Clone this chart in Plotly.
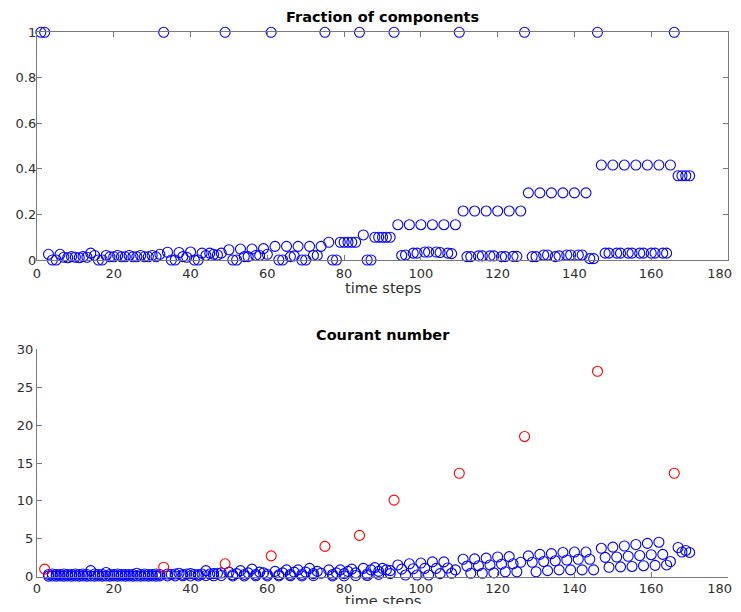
import plotly.graph_objects as go

# ---------------- Data: Fraction of components (top) ----------------
reset_steps = [1, 2, 33, 49, 61, 75, 84, 93, 110, 127, 146, 166]
reset_frac = [1, 1, 1, 1, 1, 1, 1, 1, 1, 1, 1, 1]

frac_main_x = [3, 6, 9, 12, 14, 15, 18, 21, 24, 27, 30, 32,
               34, 37, 40, 43, 45, 48,
               50, 53, 56, 59,
               62, 65, 68, 71, 74,
               76, 79, 80, 81, 82, 83,
               85, 88, 89, 90, 91, 92,
               94, 97, 100, 103, 106, 109,
               111, 114, 117, 120, 123, 126,
               128, 131, 134, 137, 140, 143,
               147, 150, 153, 156, 159, 162, 165,
               167, 168, 169, 170]
frac_main_y = [0.025, 0.025, 0.015, 0.015, 0.03, 0.02, 0.02, 0.02, 0.02, 0.02, 0.02, 0.025,
               0.034, 0.033, 0.035, 0.03, 0.03, 0.03,
               0.045, 0.048, 0.048, 0.05,
               0.06, 0.06, 0.06, 0.06, 0.06,
               0.078, 0.078, 0.078, 0.078, 0.078, 0.078,
               0.11, 0.10, 0.10, 0.10, 0.10, 0.10,
               0.155, 0.155, 0.155, 0.155, 0.155, 0.155,
               0.215, 0.215, 0.215, 0.215, 0.215, 0.215,
               0.295, 0.295, 0.295, 0.295, 0.295, 0.295,
               0.417, 0.417, 0.417, 0.417, 0.417, 0.417, 0.417,
               0.37, 0.37, 0.37, 0.37]

frac_small_x = [4, 5, 7, 8, 10, 11, 13, 16, 17, 19, 20, 22, 23, 25, 26, 28, 29, 31,
                35, 36, 38, 39, 41, 42, 44, 46, 47,
                51, 52, 54, 55, 57, 58, 60,
                63, 64, 66, 67, 69, 70, 72, 73,
                77, 78, 86, 87,
                95, 96, 98, 99, 101, 102, 104, 105, 107, 108,
                112, 113, 115, 116, 118, 119, 121, 122, 124, 125,
                129, 130, 132, 133, 135, 136, 138, 139, 141, 142, 144, 145,
                148, 149, 151, 152, 154, 155, 157, 158, 160, 161, 163, 164]
frac_small_y = [0.0, 0.0, 0.012, 0.01, 0.012, 0.01, 0.012, 0.0, 0.0, 0.014, 0.014, 0.014, 0.014, 0.014, 0.014, 0.014, 0.014, 0.014,
                0.0, 0.0, 0.015, 0.012, 0.0, 0.0, 0.02, 0.025, 0.022,
                0.0, 0.0, 0.015, 0.015, 0.02, 0.02, 0.025,
                0.0, 0.0, 0.015, 0.018, 0.0, 0.0, 0.02, 0.02,
                0.0, 0.0, 0.0, 0.0,
                0.02, 0.022, 0.03, 0.03, 0.035, 0.035, 0.035, 0.033, 0.03, 0.028,
                0.015, 0.015, 0.018, 0.018, 0.018, 0.018, 0.015, 0.015, 0.016, 0.016,
                0.015, 0.015, 0.022, 0.022, 0.015, 0.018, 0.022, 0.022, 0.022, 0.022, 0.006, 0.006,
                0.03, 0.03, 0.03, 0.03, 0.03, 0.03, 0.03, 0.03, 0.03, 0.03, 0.03, 0.03]

# ---------------- Data: Courant number (bottom) ----------------
courant_reset_y = [-0.2, 1.0, 1.25, 1.7, 2.75, 4.0, 5.45, 10.1, 13.65, 18.5, 27.1, 13.65]

cour_x = [3, 4, 5, 6, 7, 8, 9, 10, 11, 12, 13, 14, 15, 16, 17, 18, 19, 20, 21, 22, 23, 24, 25, 26, 27, 28, 29, 30, 31, 32,
          3, 4, 5, 6, 7, 8, 9, 10, 11, 12, 13, 14, 15, 16, 17, 18, 19, 20, 21, 22, 23, 24, 25, 26, 27, 28, 29, 30, 31, 32,
          34, 35, 36, 37, 38, 39, 40, 41, 42, 43, 44, 45, 46, 47, 48,
          34, 36, 38, 40, 42, 44, 46, 48,
          50, 51, 52, 53, 54, 55, 56, 57, 58, 59, 60, 51, 54, 57, 60,
          62, 63, 64, 65, 66, 67, 68, 69, 70, 71, 72, 73, 74, 63, 66, 69, 72,
          76, 77, 78, 79, 80, 81, 82, 83, 77, 80, 83,
          85, 86, 87, 88, 89, 90, 91, 92, 86, 89, 92,
          94, 97, 100, 103, 106, 95, 98, 101, 104, 107, 96, 99, 102, 105, 108, 109,
          111, 114, 117, 120, 123, 126, 112, 115, 118, 121, 124, 113, 116, 119, 122, 125,
          128, 131, 134, 137, 140, 143, 129, 132, 135, 138, 141, 144, 130, 133, 136, 139, 142, 145,
          147, 150, 153, 156, 159, 162, 148, 151, 154, 157, 160, 163, 149, 152, 155, 158, 161, 164, 165,
          167, 168, 169, 170]
cour_y = [0.3, 0.35, 0.3, 0.3, 0.35, 0.3, 0.3, 0.35, 0.3, 0.35, 0.3, 0.8, 0.35, 0.3, 0.3, 0.55, 0.3, 0.3, 0.35, 0.3, 0.3, 0.3, 0.3, 0.45, 0.3, 0.35, 0.3, 0.3, 0.35, 0.3,
          0.08, 0.1, 0.08, 0.1, 0.08, 0.1, 0.08, 0.1, 0.08, 0.1, 0.08, 0.1, 0.08, 0.1, 0.08, 0.1, 0.08, 0.1, 0.08, 0.1, 0.08, 0.1, 0.08, 0.1, 0.08, 0.1, 0.08, 0.1, 0.08, 0.1,
          0.35, 0.3, 0.35, 0.45, 0.3, 0.35, 0.4, 0.3, 0.3, 0.35, 0.8, 0.35, 0.4, 0.45, 0.5,
          0.1, 0.1, 0.12, 0.1, 0.1, 0.15, 0.12, 0.15,
          0.6, 0.25, 0.4, 0.8, 0.3, 0.5, 1.0, 0.3, 0.6, 0.5, 0.3, 0.1, 0.1, 0.12, 0.1,
          0.7, 0.25, 0.5, 0.9, 0.3, 0.6, 0.9, 0.3, 0.6, 1.1, 0.4, 0.7, 0.45, 0.1, 0.12, 0.1, 0.15,
          0.9, 0.3, 0.5, 0.9, 0.4, 0.7, 1.0, 0.5, 0.1, 0.1, 0.15,
          1.1, 0.35, 0.9, 1.2, 0.7, 1.1, 0.9, 0.8, 0.15, 0.3, 0.4,
          1.55, 1.7, 1.8, 1.95, 1.95, 1.0, 1.05, 1.1, 1.1, 1.15, 0.22, 0.22, 0.22, 0.4, 0.45, 0.9,
          2.3, 2.35, 2.45, 2.6, 2.65, 1.9, 1.4, 1.45, 1.55, 1.65, 1.7, 0.45, 0.45, 0.5, 0.65, 0.65,
          2.75, 2.95, 3.05, 3.2, 3.25, 3.25, 1.9, 2.0, 2.1, 2.2, 2.3, 2.3, 0.65, 0.8, 0.9, 0.9, 0.9, 0.9,
          3.75, 3.9, 4.05, 4.25, 4.4, 4.55, 2.55, 2.6, 2.7, 2.8, 2.9, 2.95, 1.25, 1.3, 1.35, 1.45, 1.5, 1.55, 2.0,
          3.85, 3.25, 3.45, 3.2]

# x tick labels (the last one carries trailing no-break spaces so it stays inside the page)
x_tickvals = [0, 20, 40, 60, 80, 100, 120, 140, 160, 180]
x_ticktext = ["0", "20", "40", "60", "80", "100", "120", "140", "160", "180\u00a0\u00a0\u00a0\u00a0"]

axis_color = "#7a7a7a"
text_color = "#2e2e2e"
font_family = "DejaVu Sans"

# the page body has an 8px margin, so the figure is laid out in page pixels minus 8
OFF = 8
FIG_W, FIG_H = 741 - OFF, 612 - 2 * OFF
ML = 37 - OFF
MT = 32 - OFF
MR = FIG_W - (728 - OFF)
MB = FIG_H - (577 - OFF)
plot_h = FIG_H - MT - MB


def ydom(top_px, bottom_px):
    # page pixel rows -> paper fraction of plot area
    top = (MT + plot_h - (top_px - OFF)) / plot_h
    bot = (MT + plot_h - (bottom_px - OFF)) / plot_h
    return [max(0.0, min(1.0, bot)), max(0.0, min(1.0, top))]


def ypaper(px):
    return (MT + plot_h - (px - OFF)) / plot_h


fig = go.Figure()

marker_blue = dict(symbol="circle-open", size=10, color="#0000ff", line=dict(width=1.1, color="#0000ff"))
marker_red = dict(symbol="circle-open", size=10, color="#ff0000", line=dict(width=1.1, color="#ff0000"))

fig.add_trace(go.Scatter(x=reset_steps, y=reset_frac, mode="markers", marker=marker_blue,
                         xaxis="x", yaxis="y", cliponaxis=False, showlegend=False))
fig.add_trace(go.Scatter(x=frac_main_x, y=frac_main_y, mode="markers", marker=marker_blue,
                         xaxis="x", yaxis="y", cliponaxis=False, showlegend=False))
fig.add_trace(go.Scatter(x=frac_small_x, y=frac_small_y, mode="markers", marker=marker_blue,
                         xaxis="x", yaxis="y", cliponaxis=False, showlegend=False))

fig.add_trace(go.Scatter(x=cour_x, y=cour_y, mode="markers", marker=marker_blue,
                         xaxis="x2", yaxis="y2", cliponaxis=False, showlegend=False))
fig.add_trace(go.Scatter(x=reset_steps, y=courant_reset_y, mode="markers", marker=marker_red,
                         xaxis="x2", yaxis="y2", cliponaxis=False, showlegend=False))

tickfont = dict(family=font_family, size=13, color=text_color)
common_x = dict(range=[0, 180], tickmode="array", tickvals=x_tickvals, ticktext=x_ticktext,
                ticks="inside", ticklen=5, tickcolor=axis_color,
                showline=True, linecolor=axis_color, linewidth=1.3, showgrid=False, zeroline=False,
                tickfont=tickfont, domain=[0, 1], ticklabeloverflow="allow")
common_y = dict(ticks="inside", ticklen=5, tickcolor=axis_color, showline=True, linecolor=axis_color,
                linewidth=1.3, showgrid=False, zeroline=False, tickfont=tickfont)

fig.update_layout(
    width=FIG_W, height=FIG_H, autosize=False,
    margin=dict(l=ML, r=MR, t=MT, b=MB, autoexpand=False),
    paper_bgcolor="white", plot_bgcolor="white",
    xaxis=dict(**common_x, anchor="y", mirror="ticks", ticklabelstandoff=1),
    yaxis=dict(**common_y, range=[0, 1], dtick=0.2, anchor="x", mirror="ticks",
               domain=ydom(32.3, 260), ticklabelstandoff=-3),
    xaxis2=dict(**common_x, anchor="y2", mirror=False, ticklabelstandoff=0),
    yaxis2=dict(**common_y, range=[0, 30], dtick=5, anchor="x2", mirror=False,
                domain=ydom(349.3, 576.7), ticklabelstandoff=0),
    annotations=[
        dict(text="<b>Fraction of components</b>", x=0.5, xref="paper", y=ypaper(17), yref="paper",
             yanchor="middle", showarrow=False, font=dict(family=font_family, size=14.5, color="black")),
        dict(text="time steps", x=0.5, xref="paper", y=ypaper(288), yref="paper",
             yanchor="middle", showarrow=False, font=dict(family=font_family, size=14.5, color=text_color)),
        dict(text="<b>Courant number</b>", x=0.5, xref="paper", y=ypaper(335), yref="paper",
             yanchor="middle", showarrow=False, font=dict(family=font_family, size=14.5, color="black")),
        dict(text="time steps", x=0.5, xref="paper", y=ypaper(601), yref="paper",
             yanchor="middle", showarrow=False, font=dict(family=font_family, size=14.5, color=text_color)),
    ],
)

fig.write_html("out.html")
